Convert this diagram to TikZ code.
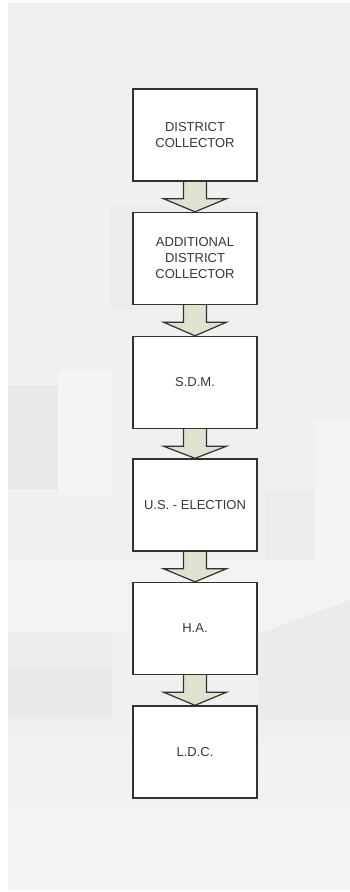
\documentclass[tikz,border=0pt]{standalone}
\usepackage{fontspec}
\setmainfont{Liberation Sans}
\usetikzlibrary{calc}
\pgfdeclarelayer{bg}
\pgfdeclarelayer{mid}
\pgfsetlayers{bg,mid,main}
\definecolor{bgbase}{RGB}{240,240,240}
\definecolor{bglight}{RGB}{245,245,245}
\definecolor{bgdark}{RGB}{233,233,233}
\definecolor{boxline}{RGB}{50,50,50}
\definecolor{txt}{RGB}{55,55,55}
\definecolor{arrowfill}{RGB}{222,226,206}
\tikzset{
  stage/.style={draw=boxline, line width=1.4pt, fill=white, minimum width=124pt,
    minimum height=92pt, inner sep=0pt, align=center, text=txt,
    font=\fontsize{13}{16}\selectfont},
  blockarrow/.style={draw=boxline, line width=1.2pt, fill=arrowfill, line join=miter},
}
\begin{document}
\begin{tikzpicture}[x=1pt,y=-1pt]
\useasboundingbox (0,0) rectangle (350,892);
\begin{pgfonlayer}{bg}
  \fill[white] (0,0) rectangle (350,892);
  \fill[bgbase] (8,3) rectangle (350,890);
  \fill[bgdark!40!bgbase] (110,205) rectangle (262,310);
  \fill[bglight!70!bgbase] (58,370) rectangle (112,495);
  \fill[bgdark] (8,386) rectangle (58,490);
  \fill[bglight!70!bgbase] (315,420) rectangle (350,560);
  \fill[bgdark!60!bgbase] (265,490) rectangle (315,562);
  \fill[bglight!60!bgbase] (8,560) rectangle (350,632);
  \fill[bgdark!60!bgbase] (8,632) rectangle (112,719);
  \fill[bgdark] (8,667) rectangle (112,719);
  \fill[bgdark!70!bgbase] (258,634) -- (350,600) -- (350,720) -- (258,720) -- cycle;
  \shade[top color=bgbase, bottom color=bglight] (8,720) rectangle (350,890);
\end{pgfonlayer}

\node[stage] (dc)  at (195,135)   {DISTRICT\\COLLECTOR};
\node[stage] (adc) at (195,258.5) {ADDITIONAL\\DISTRICT\\COLLECTOR};
\node[stage] (sdm) at (195,382.5) {S.D.M.};
\node[stage] (us)  at (195,505)   {U.S. - ELECTION};
\node[stage] (ha)  at (195,628.5) {H.A.};
\node[stage] (ldc) at (195,752)   {L.D.C.};

\begin{pgfonlayer}{mid}
\foreach \a/\b in {dc/adc, adc/sdm, sdm/us, us/ha, ha/ldc}{
  \draw[blockarrow] ($(\a.south)+(-11.5,0)$) -- ($(\a.south)+(-11.5,17)$)
    -- ($(\a.south)+(-31.5,17)$) -- (\b.north)
    -- ($(\a.south)+(31.5,17)$) -- ($(\a.south)+(11.5,17)$)
    -- ($(\a.south)+(11.5,0)$);
}
\end{pgfonlayer}
\end{tikzpicture}
\end{document}
